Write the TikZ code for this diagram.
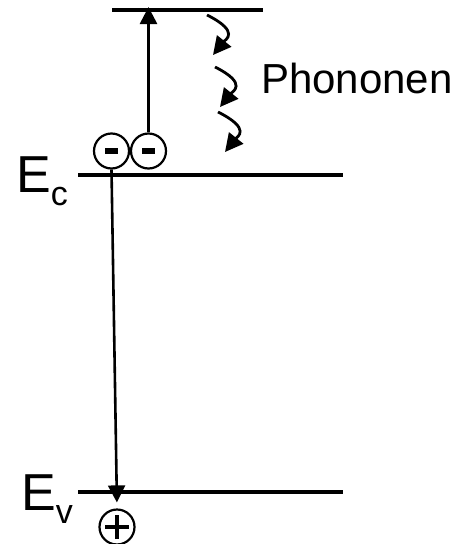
\documentclass[tikz,border=0pt]{standalone}
\usepackage{fontspec}
\setmainfont{Liberation Sans}
\usetikzlibrary{arrows.meta,calc}
\tikzset{
  level/.style={line width=3.8pt},
  thinarr/.style={line width=2.6pt,-{Triangle[length=17pt,width=17pt]}},
  phonon/.style={line width=2.8pt,-{Triangle[length=18pt,width=18pt]}},
  charge/.style={circle,draw,line width=2.2pt,minimum size=35pt,inner sep=0pt},
  sign/.style={line width=5.5pt},
  plussign/.style={line width=4.5pt},
  lbl/.style={anchor=base west,inner sep=0pt,font=\fontsize{52pt}{52pt}\selectfont},
}
\newcommand{\subsc}[1]{\raisebox{-13pt}{\fontsize{34pt}{34pt}\selectfont #1}}
\begin{document}
\begin{tikzpicture}[x=1pt,y=1pt]
\useasboundingbox (0,0) rectangle (469,-544);
% levels
\coordinate (topL) at (112,-10);
\coordinate (topR) at (263,-10);
\coordinate (ecL) at (78,-175);
\coordinate (ecR) at (343,-175);
\coordinate (evL) at (78,-492);
\coordinate (evR) at (343,-492);
\draw[level] (topL) -- (topR);
\draw[level] (ecL) -- (ecR);
\draw[level] (evL) -- (evR);
% labels
\node[lbl] (Ec) at (16,-192) {E\subsc{c}};
\node[lbl] (Ev) at (21,-510) {E\subsc{v}};
\node[anchor=base west,inner sep=0pt,font=\fontsize{42pt}{42pt}\selectfont] (ph) at (261,-93) {Phononen};
% charges
\node[charge] (e1) at (111.5,-151) {};
\node[charge] (e2) at (148.5,-151) {};
\node[charge] (h) at (117,-527) {};
\draw[sign] ([xshift=-6.5pt]e1.center) -- ([xshift=6.5pt]e1.center);
\draw[sign] ([xshift=-6.5pt]e2.center) -- ([xshift=6.5pt]e2.center);
\draw[plussign] ([xshift=-12pt]h.center) -- ([xshift=12pt]h.center);
\draw[plussign] ([yshift=-12pt]h.center) -- ([yshift=12pt]h.center);
% transitions
\draw[thinarr] (e2.north) -- ([yshift=3pt]e2.north |- topL);
\draw[thinarr,shorten >=6pt] (e1.south) -- (h.north);
% phonons
\coordinate (p1s) at (207,-15);  \coordinate (p1e) at (213,-55);
\coordinate (p2s) at (215,-67);  \coordinate (p2e) at (220,-107);
\coordinate (p3s) at (218,-112); \coordinate (p3e) at (225,-152);
\foreach \p in {p1,p2,p3}{
  \draw[phonon] (\p s) .. controls ($(\p s)+(34,-17)$) and ($(\p e)+(12,15)$) .. (\p e);
}
\end{tikzpicture}
\end{document}
